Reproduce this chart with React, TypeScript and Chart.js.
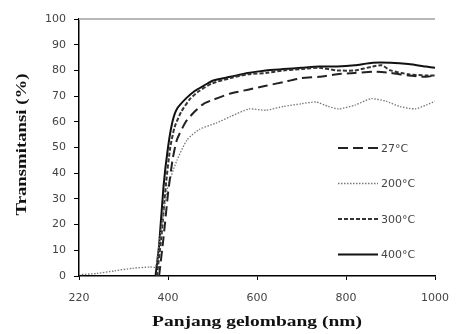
import React, { useEffect, useRef } from "react";
import { Chart, registerables } from "chart.js";

Chart.register(...registerables);

const seriesLabels = ["27°C", "200°C", "300°C", "400°C"];
const xTitle = "Panjang gelombang (nm)";
const yTitle = "Transmitansi (%)";

const wl27 = [380, 390, 400, 410, 420, 440, 460, 480, 500, 540, 580, 620, 660, 700, 740, 780, 820, 860, 900, 940, 980, 1000];
const t27 = [0, 15, 32, 45, 53, 60, 64, 67, 68.5, 71, 72.5, 74, 75.5, 77, 77.5, 78.5, 79, 79.5, 79, 78, 77.5, 78];

const wl200 = [200, 240, 280, 320, 360, 372, 378, 390, 400, 420, 443, 470, 508, 540, 582, 620, 660, 700, 732, 760, 783, 820, 857, 890, 920, 955, 980, 1000];
const t200 = [0.5, 1, 2, 3, 3.5, 3.5, 10, 25, 35, 45, 53, 57, 59.5, 62, 65, 64.5, 66, 67, 67.7, 66, 65, 66.5, 69, 68, 66, 65, 66.5, 68];

const wl300 = [375, 385, 395, 405, 415, 430, 450, 470, 500, 540, 580, 620, 660, 700, 740, 780, 820, 860, 880, 900, 940, 980, 1000];
const t300 = [0, 15, 35, 50, 58, 64, 69, 72, 75, 77, 78.5, 79, 80, 80.5, 81, 80, 80, 81.5, 82, 80, 78.5, 78, 78];

const wl400 = [372, 380, 390, 400, 410, 420, 440, 460, 480, 500, 540, 580, 620, 660, 700, 740, 780, 820, 860, 900, 940, 980, 1000];
const t400 = [0, 12, 35, 50, 60, 65, 69, 72, 74, 76, 77.5, 79, 80, 80.5, 81, 81.5, 81.5, 82, 83, 83, 82.5, 81.5, 81];

const xTickValues = [200, 400, 600, 800, 1000];
const xTickLabels = ["220", "400", "600", "800", "1000"];
const yTickValues = [0, 10, 20, 30, 40, 50, 60, 70, 80, 90, 100];

const pts = (xs: number[], ys: number[]) => xs.map((x, i) => ({ x, y: ys[i] }));

const legendPlugin = {
  id: "customLegend",
  afterDraw(chart: any) {
    const ctx = chart.ctx;
    const startY = 148;
    const gap = 35.5;
    chart.data.datasets.forEach((ds: any, i: number) => {
      const y = startY + i * gap;
      ctx.save();
      ctx.strokeStyle = ds.borderColor;
      ctx.lineWidth = ds.borderWidth;
      ctx.setLineDash(ds.borderDash || []);
      ctx.beginPath();
      ctx.moveTo(338, y);
      ctx.lineTo(378, y);
      ctx.stroke();
      ctx.setLineDash([]);
      ctx.fillStyle = "#444";
      ctx.font = "11px 'DejaVu Sans'";
      ctx.textBaseline = "middle";
      ctx.fillText(ds.label, 381, y + 1);
      ctx.restore();
    });
  },
};

const drawStretched = (ctx: any, text: string, cx: number, cy: number, targetW: number, rot: number) => {
  ctx.save();
  ctx.font = "bold 15px 'Liberation Serif'";
  ctx.fillStyle = "#111";
  ctx.textAlign = "center";
  ctx.textBaseline = "middle";
  const w = ctx.measureText(text).width;
  ctx.translate(cx, cy);
  ctx.rotate(rot);
  ctx.scale(targetW / w, 1);
  ctx.fillText(text, 0, 0);
  ctx.restore();
};

const titlePlugin = {
  id: "titles",
  afterDraw(chart: any) {
    const { ctx, chartArea } = chart;
    drawStretched(ctx, xTitle, (chartArea.left + chartArea.right) / 2, 322, 210, 0);
    drawStretched(ctx, yTitle, 22, (chartArea.top + chartArea.bottom) / 2 - 3, 142, -Math.PI / 2);
  },
};

const topLinePlugin = {
  id: "topLine",
  beforeDatasetsDraw(chart: any) {
    const { ctx, chartArea } = chart;
    ctx.save();
    ctx.strokeStyle = "#b8b8b8";
    ctx.lineWidth = 2;
    ctx.beginPath();
    ctx.moveTo(chartArea.left, chartArea.top);
    ctx.lineTo(chartArea.right, chartArea.top);
    ctx.stroke();
    ctx.restore();
  },
};

export default function App() {
  const ref = useRef<HTMLCanvasElement>(null);
  useEffect(() => {
    document.body.style.margin = "0";
    const chart = new Chart(ref.current!, {
      type: "line",
      data: {
        datasets: [
          { label: seriesLabels[0], data: pts(wl27, t27), borderColor: "#222", borderWidth: 2, borderDash: [10, 5], pointRadius: 0, tension: 0.2 },
          { label: seriesLabels[1], data: pts(wl200, t200), borderColor: "#777", borderWidth: 1.3, borderDash: [1.5, 1.5], pointRadius: 0, tension: 0.2 },
          { label: seriesLabels[2], data: pts(wl300, t300), borderColor: "#333", borderWidth: 2, borderDash: [4, 2], pointRadius: 0, tension: 0.2 },
          { label: seriesLabels[3], data: pts(wl400, t400), borderColor: "#111", borderWidth: 2, pointRadius: 0, tension: 0.2 },
        ],
      },
      options: {
        animation: false,
        responsive: false,
        maintainAspectRatio: false,
        layout: { padding: { top: 19, right: 24, left: 0, bottom: 0 } },
        plugins: { legend: { display: false }, tooltip: { enabled: false } },
        scales: {
          x: {
            type: "linear",
            min: 200,
            max: 1000,
            afterBuildTicks: (scale: any) => {
              scale.ticks = xTickValues.map((v) => ({ value: v }));
            },
            afterFit: (scale: any) => {
              scale.height = 58;
            },
            ticks: {
              callback: (v: any) => xTickLabels[xTickValues.indexOf(Number(v))] ?? "",
              color: "#444",
              font: { family: "DejaVu Sans", size: 11 },
              padding: 12,
              maxRotation: 0,
            },
            grid: { drawOnChartArea: false, drawTicks: true, tickLength: 4, color: "#000" },
            border: { display: true, color: "#000", width: 1.5 },
          },
          y: {
            type: "linear",
            min: 0,
            max: 100,
            afterBuildTicks: (scale: any) => {
              scale.ticks = yTickValues.map((v) => ({ value: v }));
            },
            afterFit: (scale: any) => {
              scale.width = 79;
            },
            ticks: {
              color: "#444",
              font: { family: "DejaVu Sans", size: 11 },
              padding: 8,
            },
            grid: { drawOnChartArea: false, drawTicks: true, tickLength: 5, color: "#000" },
            border: { display: true, color: "#000", width: 1.5 },
          },
        },
      },
      plugins: [topLinePlugin, legendPlugin, titlePlugin],
    } as any);
    return () => chart.destroy();
  }, []);
  return (
    <div style={{ width: 461, height: 334, background: "#fff" }}>
      <canvas ref={ref} width={461} height={334} style={{ display: "block" }} />
    </div>
  );
}
